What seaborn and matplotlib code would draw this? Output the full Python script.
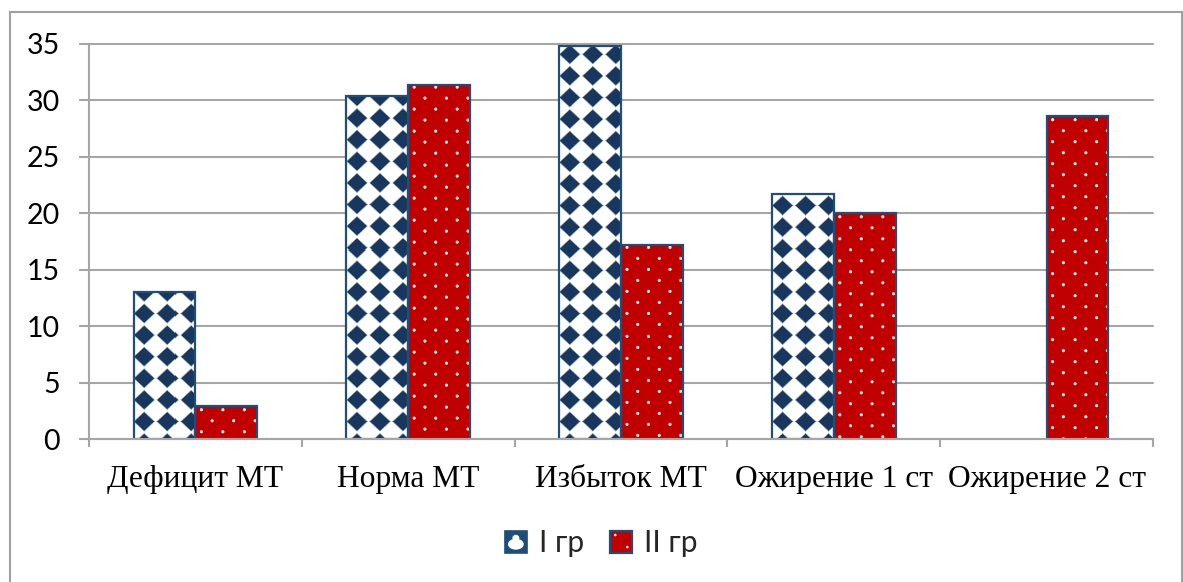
import numpy as np
import pandas as pd
import matplotlib
matplotlib.use("Agg")
import matplotlib.pyplot as plt
import seaborn as sns
from matplotlib.patches import Rectangle, Ellipse, Circle
from matplotlib.legend_handler import HandlerBase

# --- data -------------------------------------------------------------
categories = ["Дефицит МТ", "Норма МТ", "Избыток МТ", "Ожирение 1 ст", "Ожирение 2 ст"]
group_names = ["I гр", "II гр"]
values_g1 = [13.0, 30.4, 34.8, 21.7, 0.0]
values_g2 = [2.9, 31.4, 17.2, 20.0, 28.6]
y_ticks = [0, 5, 10, 15, 20, 25, 30, 35]

df = pd.DataFrame({
    "category": categories * 2,
    "group": [group_names[0]] * len(categories) + [group_names[1]] * len(categories),
    "value": values_g1 + values_g2,
})

# --- style ------------------------------------------------------------
NAVY = "#17375E"
EDGE = "#1F4E79"
RED = "#C00000"
GRID = "#A6A6A6"
sns.set_theme(style="white")
plt.rcParams["font.family"] = ["Lato", "Open Sans", "DejaVu Sans"]

W, H = 1183, 582
fig = plt.figure(figsize=(W / 100, H / 100), dpi=100)
ax = fig.add_axes([89 / W, 143 / H, 1064 / W, 395 / H])

sns.barplot(data=df, x="category", y="value", hue="group",
            order=categories, hue_order=group_names,
            palette=["white", RED], saturation=1, width=0.58,
            edgecolor=EDGE, linewidth=1.6, legend=False, ax=ax)

ax.set_xlim(-0.5, len(categories) - 0.5)
ax.set_ylim(0, 35)
ax.set_yticks(y_ticks)
ax.set_xlabel("")
ax.set_ylabel("")


# --- pattern fills ----------------------------------------------------
def diamond_texture(xs, ys, x0, y0):
    a, b = 23.0, 21.6
    dx = ((xs[None, :] - (x0 + 10.5)) / a + 0.5) % 1 - 0.5
    dy = ((ys[:, None] - (y0 + 17.5)) / b + 0.5) % 1 - 0.5
    d = np.abs(dx) + np.abs(dy)
    alpha = np.clip((0.49 - d) / 0.09, 0, 1)[..., None]
    white = np.array([1.0, 1.0, 1.0])
    navy = np.array(matplotlib.colors.to_rgb(NAVY))
    return white * (1 - alpha) + navy * alpha


def dot_texture(xs, ys, x0, y1):
    sx, sy = 21.5, 11.0
    X = xs[None, :]
    Y = ys[:, None]
    r = np.floor((y1 - 3.5 - Y) / sy + 0.5)
    cy = y1 - 3.5 - r * sy
    off = (r % 2) * sx / 2
    cx = x0 + 6 + off + np.round((X - x0 - 6 - off) / sx) * sx
    dist = np.hypot(X - cx, Y - cy)
    alpha = (np.clip((2.0 - dist) / 0.9, 0, 1) * 0.95)[..., None]
    red = np.array(matplotlib.colors.to_rgb(RED))
    white = np.array([1.0, 1.0, 1.0])
    return red * (1 - alpha) + white * alpha


inv = ax.transData.inverted()
for gi, container in enumerate(ax.containers):
    for patch in container.patches:
        bb = patch.get_window_extent()
        if bb.height < 1:
            patch.set_visible(False)
            continue
        px0, px1 = np.floor(bb.x0), np.ceil(bb.x1)
        py0, py1 = np.floor(bb.y0), np.ceil(bb.y1)
        xs = np.arange(px0, px1) + 0.5
        ys = np.arange(py0, py1) + 0.5
        if gi == 0:
            tex = diamond_texture(xs, ys, bb.x0, bb.y0)
        else:
            tex = dot_texture(xs, ys, bb.x0, bb.y1)
        (dx0, dy0), (dx1, dy1) = inv.transform([(px0, py0), (px1, py1)])
        im = ax.imshow(tex, extent=(dx0, dx1, dy0, dy1), origin="lower",
                       interpolation="nearest", aspect="auto", zorder=2.1)
        im.set_clip_path(patch)
        patch.set_facecolor("none")
        patch.set_zorder(2.2)

ax.set_xlim(-0.5, len(categories) - 0.5)
ax.set_ylim(0, 35)

# --- axes, grid, ticks ------------------------------------------------
for side in ("top", "right"):
    ax.spines[side].set_visible(False)
for side in ("left", "bottom"):
    ax.spines[side].set_color(GRID)
    ax.spines[side].set_linewidth(1.5)
    ax.spines[side].set_zorder(3)

ax.yaxis.grid(True, color=GRID, linewidth=1.5)
ax.set_axisbelow(True)
for gl in ax.get_ygridlines():
    gl.set_clip_on(False)

ax.tick_params(axis="y", direction="out", length=7, width=1.5, color=GRID,
               pad=14, labelsize=20.5, labelcolor="black", left=True)
ax.set_xticks(np.arange(-0.5, len(categories)), minor=True)
ax.tick_params(axis="x", which="minor", direction="out", length=6, width=1.5,
               color=GRID, bottom=True)
ax.tick_params(axis="x", which="major", length=0, pad=19)
for lab in ax.get_xticklabels():
    lab.set_family(["Liberation Serif", "DejaVu Serif"])
    lab.set_fontsize(22.7)
    lab.set_color("black")


# --- legend -----------------------------------------------------------
class SwatchHandler(HandlerBase):
    def __init__(self, kind):
        super().__init__()
        self.kind = kind

    def create_artists(self, legend, orig_handle, xdescent, ydescent,
                       width, height, fontsize, trans):
        s = min(width, height)
        x0 = -xdescent + (width - s) / 2
        y0 = -ydescent + (height - s) / 2
        artists = []
        if self.kind == 0:
            artists.append(Rectangle((x0, y0), s, s, facecolor=EDGE,
                                     edgecolor=EDGE, lw=1.2, transform=trans))
            artists.append(Ellipse((x0 + 0.5 * s, y0 + 0.38 * s), 0.72 * s,
                                   0.5 * s, facecolor="white", lw=0, transform=trans))
            artists.append(Ellipse((x0 + 0.5 * s, y0 + 0.66 * s), 0.32 * s,
                                   0.3 * s, facecolor="white", lw=0, transform=trans))
        else:
            artists.append(Rectangle((x0, y0), s, s, facecolor=RED,
                                     edgecolor=EDGE, lw=1.6, transform=trans))
            artists.append(Circle((x0 + 0.25 * s, y0 + 0.8 * s), 0.06 * s,
                                  facecolor="white", lw=0, transform=trans))
            artists.append(Circle((x0 + 0.8 * s, y0 + 0.25 * s), 0.06 * s,
                                  facecolor="white", lw=0, transform=trans))
        return artists


h1 = Rectangle((0, 0), 1, 1)
h2 = Rectangle((0, 0), 1, 1)
leg = fig.legend([h1, h2], group_names, loc="center",
                 bbox_to_anchor=(601 / W, 1 - 543 / H), ncol=2, frameon=False,
                 fontsize=21.5, handlelength=0.75, handleheight=0.75,
                 handletextpad=0.4, columnspacing=0.85,
                 handler_map={h1: SwatchHandler(0), h2: SwatchHandler(1)})

# --- chart frame ------------------------------------------------------
fig.add_artist(Rectangle((10 / W, -0.02), 1171.5 / W, 1 - 12 / H + 0.02,
                         transform=fig.transFigure, fill=False,
                         edgecolor="#A0A0A0", lw=1.5))

fig.savefig("out.png", dpi=100)
